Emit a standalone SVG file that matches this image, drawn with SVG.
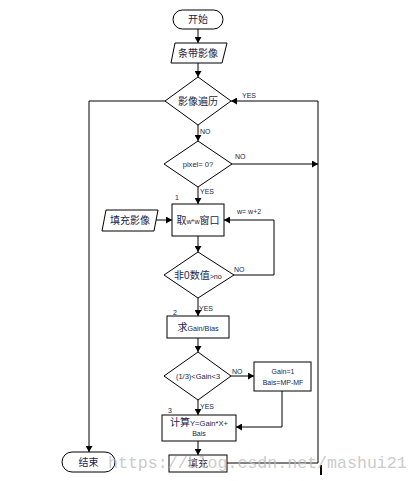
<svg xmlns="http://www.w3.org/2000/svg" width="419" height="481" viewBox="0 0 419 481">
<defs>
<marker id="ah" markerUnits="userSpaceOnUse" markerWidth="7" markerHeight="7" refX="6" refY="3.5" orient="auto">
<path d="M0,0 L6,3.5 L0,7 Z" fill="#000"/>
</marker>
<style>
.s{fill:#fff;stroke:#000;stroke-width:1}
.c{fill:none;stroke:#000;stroke-width:1}
.a{marker-end:url(#ah)}
.zh{font-family:"Liberation Sans","Noto Sans CJK SC",sans-serif;font-size:10px;fill:#1b2447;text-anchor:middle}
.t{font-family:"Liberation Sans",sans-serif;font-size:7px;fill:#1b2447}
.m{text-anchor:middle}
.sm{font-size:7.2px}
</style>
</defs>
<rect width="419" height="481" fill="#fff"/>
<g id="connectors">
<path class="c a" d="M198,29 V43"/>
<path class="c a" d="M198,63 V77"/>
<path class="c a" d="M198,125 V141"/>
<path class="c a" d="M198,187 V204"/>
<path class="c a" d="M198,236 V252"/>
<path class="c a" d="M198,298 V316"/>
<path class="c a" d="M198,338 V352"/>
<path class="c a" d="M198,400 V415"/>
<path class="c a" d="M198,441 V455"/>
<path class="c a" d="M156,220 H172"/>
<path class="c a" d="M234,275 H274 V220 H224"/>
<path class="c a" d="M231,376 H254"/>
<path class="c a" d="M282,391 V427 H236"/>
<path class="c a" d="M231,164 H318"/>
<path class="c a" d="M227,463 H318 V101 H231"/>
<path class="c a" d="M165,101 H89 V452"/>
<path d="M321,465 V475" stroke="#000" stroke-width="2"/>
</g>
<g id="start"><rect class="s" x="173" y="10" width="50" height="19" rx="9.5"/><text class="zh" x="198" y="23">开始</text></g>
<g id="input"><polygon class="s" points="175,43 227,43 222,63 171,63"/><text class="zh" x="198" y="57">条带影像</text></g>
<g id="traverse"><polygon class="s" points="198,77 231,101 198,125 165,101"/><text class="zh" x="198" y="105">影像遍历</text></g>
<g id="pixel"><polygon class="s" points="198,141 232,164 198,187 164,164"/><text class="t m" style="font-size:7.6px" x="198" y="167">pixel= 0?</text></g>
<g id="fill-img"><polygon class="s" points="106,210 158,210 154,231 102,231"/><text class="zh" x="130" y="224">填充影像</text></g>
<g id="window"><rect class="s" x="172" y="204" width="52" height="32"/><text class="zh" x="198" y="224">取<tspan class="sm">w*w</tspan>窗口</text></g>
<g id="nonzero"><polygon class="s" points="198,252 234,275 198,298 164,275"/><text class="zh" x="198" y="279">非0数值<tspan class="sm">&gt;no</tspan></text></g>
<g id="gainbias"><rect class="s" x="167" y="316" width="62" height="22"/><text class="zh" x="198" y="331">求<tspan class="sm">Gain/Bias</tspan></text></g>
<g id="gaincheck"><polygon class="s" points="198,352 231,376 198,400 164,376"/><text class="t m" style="font-size:7.5px" x="198" y="379">(1/3)&lt;Gain&lt;3</text></g>
<g id="gain1"><rect class="s" x="254" y="362" width="57" height="29"/><text class="t m" x="283" y="374">Gain=1</text><text class="t m" x="283" y="385">Bais=MP-MF</text></g>
<g id="calc"><rect class="s" x="162" y="415" width="74" height="26"/><text class="zh" x="199" y="426">计算<tspan class="sm" style="font-size:7.6px">Y=Gain*X+</tspan></text><text class="t m" x="199" y="436">Bais</text></g>
<g id="fill"><rect class="s" x="169" y="455" width="58" height="17"/><text class="zh" x="198" y="467">填充</text></g>
<g id="end"><rect class="s" x="62" y="452" width="53" height="20" rx="10"/><text class="zh" x="88.5" y="466">结束</text></g>
<g id="labels">
<text class="t" x="242" y="98">YES</text>
<text class="t" x="200" y="134">NO</text>
<text class="t" x="235" y="159">NO</text>
<text class="t" x="200" y="194">YES</text>
<text class="t" x="175" y="200">1</text>
<text class="t" x="237" y="214">w= w+2</text>
<text class="t" x="234" y="272">NO</text>
<text class="t" x="199" y="311">YES</text>
<text class="t" x="173" y="315">2</text>
<text class="t" x="232" y="374">NO</text>
<text class="t" x="200" y="409">YES</text>
<text class="t" x="168" y="413">3</text>
</g>
<text x="108" y="468" font-family="Liberation Mono,monospace" font-size="16.6" fill="#bdbdbd" fill-opacity="0.8">https://blog.csdn.net/mashui21</text>
</svg>
